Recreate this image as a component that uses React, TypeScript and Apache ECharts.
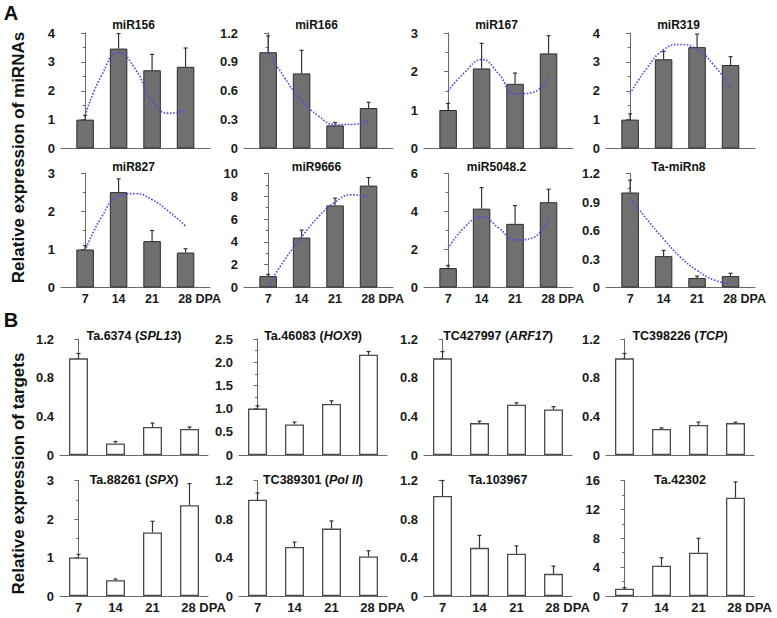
import { useEffect, useRef } from "react";
import * as echarts from "echarts";

const FONT = '"Liberation Sans", Arial, Helvetica, sans-serif';

// ---------- data ----------
const DPA_LABELS = ["7", "14", "21", "28"];
const DPA_UNIT = "DPA";
const TREND_X = [0, 0.5, 1, 1.5, 2, 2.5, 3];

const A_TITLES = ["miR156", "miR166", "miR167", "miR319", "miR827", "miR9666", "miR5048.2", "Ta-miRn8"];
const A_MEANS = [
  [1.0, 3.46, 2.71, 2.83],
  [1.0, 0.78, 0.24, 0.42],
  [1.0, 2.08, 1.68, 2.47],
  [1.0, 3.09, 3.51, 2.89],
  [1.0, 2.51, 1.22, 0.92],
  [1.0, 4.38, 7.2, 8.94],
  [1.02, 4.15, 3.35, 4.49],
  [1.0, 0.33, 0.1, 0.12],
];
const A_ERRORS = [
  [0.15, 0.52, 0.55, 0.65],
  [0.17, 0.24, 0.03, 0.06],
  [0.17, 0.65, 0.28, 0.46],
  [0.2, 0.27, 0.45, 0.29],
  [0.1, 0.35, 0.28, 0.1],
  [0.15, 0.66, 0.64, 0.71],
  [0.14, 1.11, 0.96, 0.68],
  [0.13, 0.06, 0.02, 0.03],
];
const A_TRENDS = [
  [1.15, 2.55, 3.32, 2.75, 1.65, 1.22, 1.33],
  [1.02, 0.73, 0.5, 0.34, 0.25, 0.25, 0.29],
  [1.5, 1.98, 2.31, 1.95, 1.42, 1.45, 1.83],
  [1.9, 2.78, 3.42, 3.6, 3.44, 2.89, 2.11],
  [0.97, 1.87, 2.4, 2.47, 2.31, 2.0, 1.62],
  [0.14, 2.45, 4.41, 6.19, 7.49, 8.13, 7.92],
  [2.06, 3.18, 3.72, 3.15, 2.5, 2.6, 3.58],
  [0.94, 0.72, 0.51, 0.32, 0.18, 0.08, 0.04],
];
const A_YMAX = [4, 1.2, 3, 4, 3, 10, 6, 1.2];
const A_YSTEP = [1, 0.3, 1, 1, 1, 2, 2, 0.3];

const B_NAMES = ["Ta.6374", "Ta.46083", "TC427997", "TC398226", "Ta.88261", "TC389301", "Ta.103967", "Ta.42302"];
const B_GENES = ["SPL13", "HOX9", "ARF17", "TCP", "SPX", "Pol II", "", ""];
const B_MEANS = [
  [1.0, 0.12, 0.29, 0.27],
  [1.0, 0.66, 1.1, 2.16],
  [1.0, 0.33, 0.52, 0.47],
  [1.0, 0.27, 0.31, 0.33],
  [1.0, 0.41, 1.65, 2.36],
  [1.0, 0.51, 0.7, 0.41],
  [1.04, 0.5, 0.44, 0.23],
  [1.0, 4.2, 6.0, 13.6],
];
const B_ERRORS = [
  [0.05, 0.02, 0.04, 0.02],
  [0.06, 0.05, 0.07, 0.07],
  [0.07, 0.02, 0.02, 0.03],
  [0.05, 0.01, 0.03, 0.01],
  [0.08, 0.03, 0.29, 0.56],
  [0.07, 0.05, 0.08, 0.06],
  [0.16, 0.13, 0.08, 0.08],
  [0.15, 1.1, 2.0, 2.2],
];
const B_YMAX = [1.2, 2.5, 1.2, 1.2, 3, 1.2, 1.2, 16];
const B_YSTEP = [0.4, 0.5, 0.4, 0.4, 1, 0.4, 0.4, 4];

const A_AXIS_TITLE = "Relative expression of miRNAs";
const B_AXIS_TITLE = "Relative expression of targets";

// ---------- layout ----------
const A_LEFT = [61, 244, 424, 606];
const A_TOP = [33, 173.5];
const A_HEIGHT = [115.5, 114];
const A_WIDTH = 149;
const A_XMIN = -0.72;
const A_XMAX = 3.73;
const A_TITLE_Y = [25, 166.5];

const B_LEFT = [60, 239, 424, 606];
const B_TOP = [339, 480.5];
const B_HEIGHT = [116, 115.5];
const B_WIDTH = 148;
const B_XMIN = -0.5;
const B_XMAX = 3.5;
const B_TITLE_Y = [336, 480];

type Panel = {
  left: number;
  top: number;
  width: number;
  height: number;
  xMin: number;
  xMax: number;
  barWidth: number;
  showX: boolean;
  ymax: number;
  ystep: number;
  means: number[];
  errs: number[];
  trend?: number[];
  fill: string;
  border: string;
  borderWidth: number;
  labelSize: number;
};

function buildOption() {
  const panels: Panel[] = [];
  for (let i = 0; i < 8; i++) {
    const row = Math.floor(i / 4);
    const col = i % 4;
    panels.push({
      left: A_LEFT[col],
      top: A_TOP[row],
      width: A_WIDTH,
      height: A_HEIGHT[row],
      xMin: A_XMIN,
      xMax: A_XMAX,
      barWidth: 17.5,
      showX: row === 1,
      ymax: A_YMAX[i],
      ystep: A_YSTEP[i],
      means: A_MEANS[i],
      errs: A_ERRORS[i],
      trend: A_TRENDS[i],
      fill: "#707070",
      border: "#2b2b2b",
      borderWidth: 1,
      labelSize: 12.5,
    });
  }
  for (let i = 0; i < 8; i++) {
    const row = Math.floor(i / 4);
    const col = i % 4;
    panels.push({
      left: B_LEFT[col],
      top: B_TOP[row],
      width: B_WIDTH,
      height: B_HEIGHT[row],
      xMin: B_XMIN,
      xMax: B_XMAX,
      barWidth: 19,
      showX: row === 1,
      ymax: B_YMAX[i],
      ystep: B_YSTEP[i],
      means: B_MEANS[i],
      errs: B_ERRORS[i],
      fill: "#ffffff",
      border: "#4a4a4a",
      borderWidth: 1.3,
      labelSize: 13,
    });
  }

  const grid: any[] = [];
  const xAxis: any[] = [];
  const yAxis: any[] = [];
  const series: any[] = [];

  panels.forEach((p, idx) => {
    grid.push({
      left: p.left,
      top: p.top,
      width: p.width,
      height: p.height,
      containLabel: false,
      outerBoundsMode: "none",
    });
    const spacing = p.width / (p.xMax - p.xMin);
    const lastPos = 3 + 14 / spacing;
    xAxis.push({
      type: "value",
      gridIndex: idx,
      min: p.xMin,
      max: p.xMax,
      axisLine: { show: true, onZero: false, lineStyle: { color: "#6a6a6a", width: 1 } },
      axisTick: { show: false },
      splitLine: { show: false },
      axisLabel: {
        show: p.showX,
        customValues: [0, 1, 2, lastPos],
        margin: 5,
        fontFamily: FONT,
        fontSize: p.labelSize,
        fontWeight: "bold",
        color: "#1a1a1a",
        formatter: (v: number) => {
          const i = Math.min(3, Math.round(v));
          return i === 3 ? `${DPA_LABELS[3]} ${DPA_UNIT}` : DPA_LABELS[i];
        },
      },
    });
    const step = p.ystep;
    yAxis.push({
      type: "value",
      gridIndex: idx,
      min: 0,
      max: p.ymax,
      interval: step,
      axisLine: { show: true, lineStyle: { color: "#6a6a6a", width: 1 } },
      axisTick: { show: true, length: 4, lineStyle: { color: "#6a6a6a" } },
      minorTick: { show: true, splitNumber: 2, length: 2.5, lineStyle: { color: "#6a6a6a" } },
      splitLine: { show: false },
      minorSplitLine: { show: false },
      axisLabel: {
        margin: 6,
        fontFamily: FONT,
        fontSize: 13,
        fontWeight: "bold",
        color: "#1a1a1a",
        formatter: (v: number) => {
          if (Math.abs(v) < 1e-9) return "0";
          return step < 1 ? v.toFixed(1) : String(Math.round(v));
        },
      },
    });
    series.push({
      type: "bar",
      xAxisIndex: idx,
      yAxisIndex: idx,
      barWidth: p.barWidth,
      data: p.means.map((m, k) => [k, m]),
      itemStyle: { color: p.fill, borderColor: p.border, borderWidth: p.borderWidth },
      z: 2,
      silent: true,
    });
    series.push({
      type: "custom",
      xAxisIndex: idx,
      yAxisIndex: idx,
      data: p.means.map((m, k) => [k, m, p.errs[k]]),
      encode: { x: 0, y: 1 },
      z: 3,
      silent: true,
      renderItem: (_params: any, api: any) => {
        const x = api.value(0);
        const v = api.value(1);
        const e = api.value(2);
        const p0 = api.coord([x, v]);
        const p1 = api.coord([x, v + e]);
        const style = { stroke: "#333333", lineWidth: 1.2 };
        return {
          type: "group",
          children: [
            { type: "line", shape: { x1: p0[0], y1: p0[1], x2: p1[0], y2: p1[1] }, style },
            { type: "line", shape: { x1: p1[0] - 2, y1: p1[1], x2: p1[0] + 2, y2: p1[1] }, style },
          ],
        };
      },
    });
    if (p.trend) {
      series.push({
        type: "line",
        xAxisIndex: idx,
        yAxisIndex: idx,
        data: TREND_X.map((x, j) => [x, p.trend![j]]),
        smooth: 0.5,
        showSymbol: false,
        symbol: "none",
        z: 4,
        silent: true,
        lineStyle: { color: "#4b4be0", width: 1.6, type: "dotted" },
      });
    }
  });

  const graphic: any[] = [];
  const textEl = (text: string, x: number, y: number, size: number, extra: any = {}) => ({
    type: "text",
    x,
    y,
    silent: true,
    ...extra,
    style: {
      text,
      fontFamily: FONT,
      fontSize: size,
      fontWeight: "bold",
      fill: "#111111",
      textAlign: "center",
      textVerticalAlign: "middle",
      align: "center",
      verticalAlign: "middle",
      ...(extra.style || {}),
    },
  });

  A_TITLES.forEach((t, i) => {
    const row = Math.floor(i / 4);
    const col = i % 4;
    graphic.push(textEl(t, A_LEFT[col] + A_WIDTH / 2 - 2, A_TITLE_Y[row], 12));
  });
  B_NAMES.forEach((n, i) => {
    const row = Math.floor(i / 4);
    const col = i % 4;
    const gene = B_GENES[i];
    const text = gene ? `${n} ({i|${gene}})` : n;
    graphic.push(
      textEl(text, B_LEFT[col] + B_WIDTH / 2, B_TITLE_Y[row], 12.5, {
        style: {
          rich: {
            i: {
              fontFamily: FONT,
              fontSize: 12.5,
              fontWeight: "bold",
              fontStyle: "italic",
              fill: "#111111",
            },
          },
        },
      })
    );
  });
  graphic.push(textEl(A_AXIS_TITLE, 18, 157.5, 17, { rotation: Math.PI / 2 }));
  graphic.push(textEl(B_AXIS_TITLE, 18, 473.5, 17, { rotation: Math.PI / 2 }));
  graphic.push(textEl("A", 11, 13, 20));
  graphic.push(textEl("B", 11, 320, 20));

  return {
    animation: false,
    backgroundColor: "#ffffff",
    textStyle: { fontFamily: FONT },
    grid,
    xAxis,
    yAxis,
    series,
    graphic,
  };
}

export default function App() {
  const ref = useRef<HTMLDivElement>(null);
  useEffect(() => {
    if (!ref.current) return;
    const chart = echarts.init(ref.current, null, { renderer: "svg" });
    chart.setOption(buildOption() as any);
    return () => chart.dispose();
  }, []);
  return (
    <div
      ref={ref}
      style={{ position: "absolute", left: 0, top: 0, width: 777, height: 618, background: "#fff" }}
    />
  );
}
